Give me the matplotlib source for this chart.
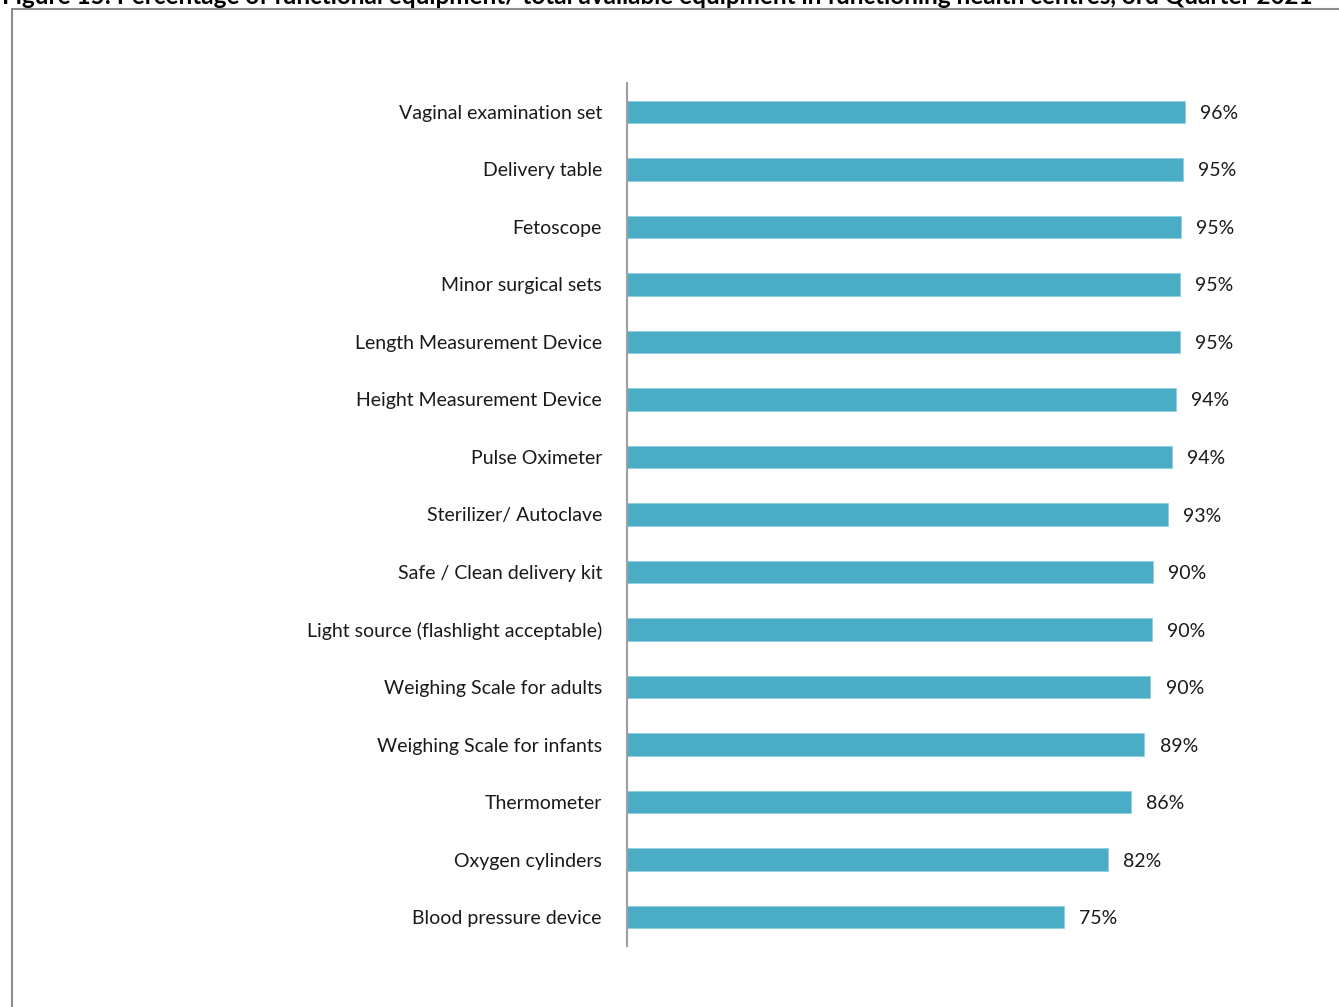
import matplotlib.pyplot as plt
from matplotlib.patches import Rectangle

# Données
equipements = [
    'Vaginal examination set',
    'Delivery table',
    'Fetoscope',
    'Minor surgical sets',
    'Length Measurement Device',
    'Height Measurement Device',
    'Pulse Oximeter',
    'Sterilizer/ Autoclave',
    'Safe / Clean delivery kit',
    'Light source (flashlight acceptable)',
    'Weighing Scale for adults',
    'Weighing Scale for infants',
    'Thermometer',
    'Oxygen cylinders',
    'Blood pressure device',
]
valeurs = [95.5, 95.2, 94.9, 94.7, 94.7, 94.0, 93.3, 92.6, 90.1, 89.9, 89.6, 88.6, 86.3, 82.4, 74.8]
etiquettes = ['96%', '95%', '95%', '95%', '95%', '94%', '94%', '93%', '90%', '90%', '90%', '89%', '86%', '82%', '75%']

titre = ('Figure 15: Percentage of functional equipment/ total available equipment '
         'in functioning health centres, 3rd Quarter 2021')

plt.rcParams['font.family'] = ['Lato', 'DejaVu Sans']

W, H = 1339, 1007
fig = plt.figure(figsize=(W / 100, H / 100), dpi=100)

# Cadre gris autour du graphique
fig.patches.append(Rectangle((12 / W, -0.05), 1.1, 1 - 9 / H + 0.05, transform=fig.transFigure,
                             fill=False, edgecolor='#8c8c8c', linewidth=1.5))

# Titre coupé en haut de l'image (comme dans l'original)
fig.text(2 / W, 1 - 4 / H, titre, fontsize=17.5, fontweight='bold', va='baseline', ha='left')

ax = fig.add_axes([627 / W, 1 - 946 / H, 584 / W, 863 / H])
pos = list(range(len(equipements)))
ax.barh(pos, valeurs, height=0.39, color='#4BACC6', edgecolor='#8fd0e0', linewidth=0.6)
ax.set_ylim(len(equipements) - 0.5, -0.5)
ax.set_xlim(0, 100)

for p, v, e in zip(pos, valeurs, etiquettes):
    ax.annotate(e, (v, p), xytext=(11, 0), textcoords='offset points',
                va='center_baseline', ha='left', fontsize=14, color='#1a1a1a')

ax.set_yticks(pos)
ax.set_yticklabels(equipements, fontsize=14, color='#1a1a1a')
ax.tick_params(axis='y', length=0, pad=18)
ax.set_xticks([])
for s in ['top', 'right', 'bottom']:
    ax.spines[s].set_visible(False)
ax.spines['left'].set_color('#a0a0a0')
ax.spines['left'].set_linewidth(1.5)

fig.savefig('out.png', dpi=100)
